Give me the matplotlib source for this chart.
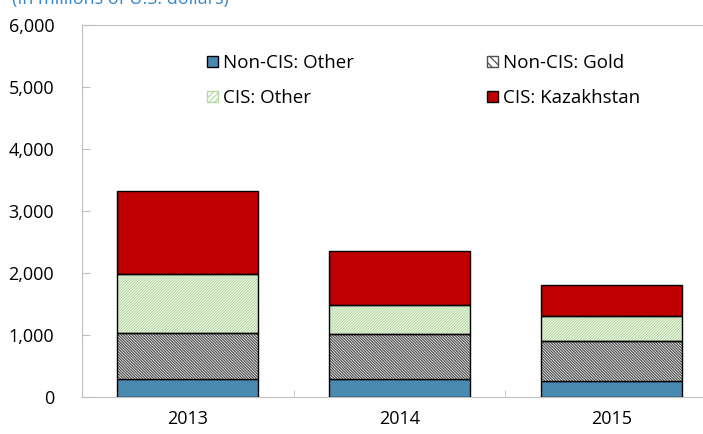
import numpy as np
import matplotlib.pyplot as plt
from matplotlib.patches import Patch

plt.rcParams['font.family'] = ['Open Sans', 'DejaVu Sans']
plt.rcParams['hatch.linewidth'] = 0.9

years = ['2013', '2014', '2015']
non_cis_other = [290, 290, 255]
non_cis_gold = [740, 725, 650]
cis_other = [955, 470, 400]
cis_kazakhstan = [1345, 870, 500]

blue = '#4A8AB0'
red = '#C00000'
green = '#B8D9A3'
gray = '#505050'

x = np.arange(len(years))
w = 0.665

fig = plt.figure(figsize=(7.03, 4.34), dpi=100)
ax = fig.add_axes([82/703, 37/434, 635/703, 372/434])

b1 = np.array(non_cis_other)
b2 = b1 + np.array(non_cis_gold)
b3 = b2 + np.array(cis_other)

ax.bar(x, non_cis_other, w, color=blue, edgecolor='black', linewidth=1, zorder=2)
ax.bar(x, non_cis_gold, w, bottom=b1, color='white', edgecolor=gray,
       hatch='\\' * 12, linewidth=0, zorder=2)
ax.bar(x, non_cis_gold, w, bottom=b1, fill=False, edgecolor='black', linewidth=1, zorder=3)
ax.bar(x, cis_other, w, bottom=b2, color='white', edgecolor=green,
       hatch='/' * 12, linewidth=0, zorder=2)
ax.bar(x, cis_other, w, bottom=b2, fill=False, edgecolor='black', linewidth=1, zorder=3)
ax.bar(x, cis_kazakhstan, w, bottom=b3, color=red, edgecolor='black', linewidth=1, zorder=2)

ax.set_xlim(-0.5, 2.5)
ax.set_ylim(0, 6000)
ax.set_yticks(np.arange(0, 6001, 1000))
ax.set_yticklabels([f'{v:,}' for v in range(0, 6001, 1000)])
ax.set_xticks(x)
ax.set_xticklabels(years)
ax.set_xticks([0.5, 1.5], minor=True)
ax.tick_params(axis='x', which='major', length=0, pad=9, labelsize=13, colors='black')
ax.tick_params(axis='x', which='minor', direction='in', length=5, color='#BFBFBF')
ax.tick_params(axis='y', direction='in', length=6, color='#BFBFBF', pad=20, labelsize=13)
for s in ax.spines.values():
    s.set_color('#BFBFBF')

handles = [
    Patch(facecolor=blue, edgecolor='black', label='Non-CIS: Other'),
    Patch(facecolor='white', edgecolor=green, hatch='//////', label='CIS: Other'),
    Patch(facecolor='white', edgecolor=gray, hatch='\\\\\\\\', label='Non-CIS: Gold'),
    Patch(facecolor=red, edgecolor='black', label='CIS: Kazakhstan'),
]
fig.legend(handles=handles, ncol=2, frameon=False, loc='upper left',
           bbox_to_anchor=(198/703, 1 - 45/434), fontsize=13.5,
           handlelength=0.55, handleheight=0.55, handletextpad=0.3,
           columnspacing=7.1, labelspacing=0.9, borderpad=0)

fig.text(12/703, 1 - 8/434, '(In millions of U.S. dollars)', color='#3A87C8',
         fontsize=13, va='bottom')

fig.savefig('out.png', dpi=100)
